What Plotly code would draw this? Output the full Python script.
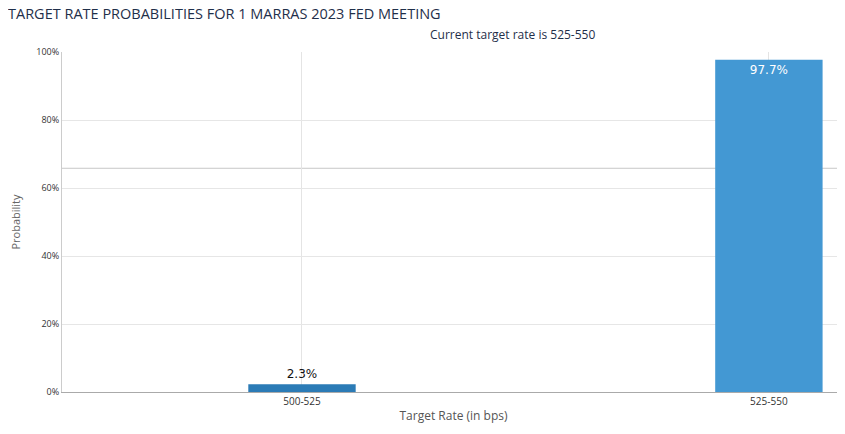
import plotly.graph_objects as go

rates = ["500-525", "525-550"]
probs = [2.3, 97.7]
labels = ["2.3%", "97.7%"]
bar_colors = ["#2b7bb6", "#4398d3"]

W, H = 845, 434
# page body adds an 8px offset, so margins are shifted to compensate
L, R, T, B = 54, 8, 44, 50

fig = go.Figure(go.Bar(
    x=rates, y=probs, width=0.23,
    marker=dict(color=bar_colors, line=dict(width=0)),
    text=labels,
    textposition=["outside", "inside"],
    insidetextanchor="end",
    textfont=dict(family="DejaVu Sans", size=12, color=["#111111", "#ffffff"]),
    cliponaxis=False,
))

fig.add_shape(type="line", xref="paper", yref="y", x0=0, x1=1, y0=65.8, y1=65.8,
              line=dict(color="#c8c8c8", width=1), layer="below")

fig.update_layout(
    width=W, height=H,
    margin=dict(l=L, r=R, t=T, b=B),
    plot_bgcolor="white", paper_bgcolor="white",
    showlegend=False,
    font=dict(family="Open Sans", color="#555555"),
    title=dict(text="TARGET RATE PROBABILITIES FOR 1 MARRAS 2023 FED MEETING",
               x=0, xanchor="left", y=1 - 6 / H, yanchor="middle",
               font=dict(size=14.5, color="#1f2f4a")),
    annotations=[dict(text="Current target rate is 525-550", xref="paper", yref="paper",
                      x=(504 - L) / (W - L - R), y=1 + 17 / (H - T - B), showarrow=False,
                      xanchor="center", yanchor="middle",
                      font=dict(size=12, color="#1f2f4a"))],
    xaxis=dict(
        type="category", range=[-0.514, 1.163],
        showgrid=True, gridcolor="#e4e4e4",
        showline=True, linecolor="#aaaaaa",
        ticks="", tickfont=dict(size=10, color="#333333"),
        title=dict(text="Target Rate (in bps)", font=dict(size=12, color="#555555"), standoff=4),
    ),
    yaxis=dict(
        range=[0, 100], tickvals=[0, 20, 40, 60, 80, 100],
        ticktext=["0%", "20%", "40%", "60%", "80%", "100%"],
        showgrid=True, gridcolor="#e6e6e6",
        showline=True, linecolor="#cccccc", zeroline=False,
        ticks="", tickfont=dict(size=9, color="#333333"),
        title=dict(text="Probability", font=dict(size=11, color="#666666"), standoff=14),
    ),
)

fig.write_html("out.html")
